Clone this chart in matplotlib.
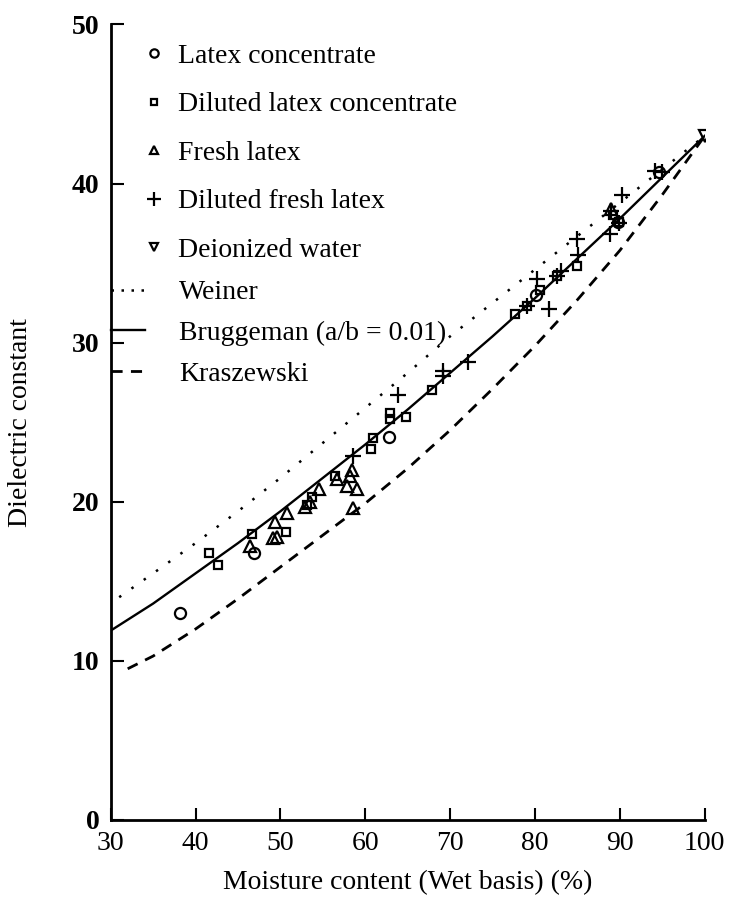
import numpy as np
import matplotlib
matplotlib.use('Agg')
import matplotlib.pyplot as plt
from matplotlib.lines import Line2D

plt.rcParams['font.family'] = ['Liberation Serif', 'DejaVu Serif']

# measured points (moisture %, dielectric constant)
latex_x = [38.2, 46.9, 62.8, 80.1, 89.8, 94.6]
latex_y = [13.0, 16.8, 24.1, 33.0, 37.6, 40.7]

dil_latex_x = [41.6, 42.7, 46.6, 50.7, 53.1, 53.7, 56.4, 60.7, 60.9, 62.9, 62.9, 64.8,
               67.9, 77.6, 79.1, 80.6, 82.6, 85.0, 89.2, 89.9]
dil_latex_y = [16.8, 16.0, 18.0, 18.1, 19.8, 20.3, 21.6, 23.3, 24.0, 25.2, 25.6, 25.3,
               27.0, 31.8, 32.3, 33.3, 34.2, 34.8, 38.0, 37.6]

fresh_x = [46.4, 49.1, 49.6, 49.4, 50.8, 52.9, 53.5, 54.5, 56.7, 58.2, 58.4, 57.8,
           59.0, 58.6, 89.0]
fresh_y = [17.2, 17.7, 17.8, 18.7, 19.3, 19.7, 20.0, 20.8, 21.4, 21.6, 22.0, 21.0,
           20.8, 19.6, 38.4]

dil_fresh_x = [58.6, 63.8, 69.2, 69.2, 72.1, 79.1, 80.2, 81.6, 82.6, 83.1, 84.9, 85.1,
               88.8, 89.0, 90.2, 89.9, 94.1, 95.0]
dil_fresh_y = [22.9, 26.7, 27.9, 28.2, 28.8, 32.3, 34.0, 32.1, 34.2, 34.5, 36.5, 35.5,
               36.8, 38.3, 39.3, 37.5, 40.8, 40.7]

water_x = [100.0]
water_y = [43.0]

# model curves
weiner_x = [31, 35, 40, 45, 50, 55, 60, 65, 70, 75, 80, 85, 90, 95, 100]
weiner_y = [14.0, 15.5, 17.4, 19.4, 21.5, 23.7, 25.9, 28.1, 30.4, 32.5, 34.6, 36.7, 38.8, 40.9, 43.0]

brug_x = [30, 35, 40, 45, 50, 55, 60, 65, 70, 75, 80, 85, 90, 95, 100]
brug_y = [11.9, 13.6, 15.5, 17.4, 19.4, 21.5, 23.6, 25.8, 28.1, 30.4, 32.8, 35.3, 37.8, 40.4, 43.0]

krasz_x = [32, 35, 40, 45, 50, 55, 60, 65, 70, 75, 80, 85, 90, 95, 100]
krasz_y = [9.5, 10.3, 12.0, 13.9, 15.9, 17.9, 19.9, 22.1, 24.5, 27.1, 29.8, 32.7, 35.8, 39.3, 43.0]

FS = 20

fig = plt.figure(figsize=(7.38, 9.06), dpi=100)
ax = fig.add_axes([0.150, 0.095, 0.805, 0.878])

ax.plot(weiner_x, weiner_y, color='black', lw=1.8, linestyle=(0, (1, 5)))
ax.plot(brug_x, brug_y, color='black', lw=1.7, linestyle='-')
ax.plot(krasz_x, krasz_y, color='black', lw=2.0, linestyle=(0, (4, 3)))

mk = dict(linestyle='none', color='black', markerfacecolor='none', markeredgewidth=1.6)
ax.plot(latex_x, latex_y, marker='o', markersize=8, **mk)
ax.plot(dil_latex_x, dil_latex_y, marker='s', markersize=6, **mk)
ax.plot(fresh_x, fresh_y, marker='^', markersize=8, **mk)
ax.plot(dil_fresh_x, dil_fresh_y, marker='+', markersize=11, **mk)
ax.plot(water_x, water_y, marker='v', markersize=8, **mk)

ax.set_xlim(30, 100)
ax.set_ylim(0, 50)
ax.set_xticks(np.arange(30, 101, 10))
ax.set_yticks(np.arange(0, 51, 10))
for s in ['top', 'right']:
    ax.spines[s].set_visible(False)
for s in ['left', 'bottom']:
    ax.spines[s].set_linewidth(2)
ax.tick_params(direction='in', length=9, width=1.5, labelsize=FS, pad=8)
for lab in ax.get_yticklabels():
    lab.set_fontweight('bold')

ax.set_xlabel('Moisture content (Wet basis) (%)', fontsize=FS, labelpad=10)
ax.set_ylabel('Dielectric constant', fontsize=FS, labelpad=28)

lk = dict(linestyle='none', color='black', markerfacecolor='none', markeredgewidth=1.6)
h1 = [Line2D([], [], marker='o', markersize=6, **lk),
      Line2D([], [], marker='s', markersize=5, **lk),
      Line2D([], [], marker='^', markersize=6, **lk),
      Line2D([], [], marker='+', markersize=10, **lk),
      Line2D([], [], marker='v', markersize=6, **lk)]
n1 = ['Latex concentrate', 'Diluted latex concentrate', 'Fresh latex',
      'Diluted fresh latex', 'Deionized water']
leg1 = ax.legend(h1, n1, loc='upper left', bbox_to_anchor=(0.05, 0.976), frameon=False,
                 fontsize=FS, handlelength=1.0, handletextpad=0.35, labelspacing=0.83,
                 borderaxespad=0, borderpad=0)
ax.add_artist(leg1)

h2 = [Line2D([], [], color='black', lw=1.8, linestyle=(0, (1, 3))),
      Line2D([], [], color='black', lw=1.7),
      Line2D([], [], color='black', lw=2.0, linestyle=(0, (4, 3)))]
n2 = ['Weiner', 'Bruggeman (a/b = 0.01)', 'Kraszewski']
ax.legend(h2, n2, loc='upper left', bbox_to_anchor=(0.0, 0.679), frameon=False,
          fontsize=FS, handlelength=1.25, handletextpad=1.2, labelspacing=0.55,
          borderaxespad=0, borderpad=0)

fig.savefig('out.png', dpi=100)
